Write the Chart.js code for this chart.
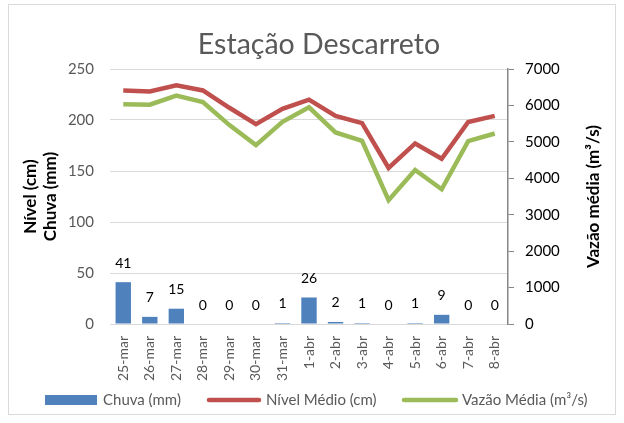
<!DOCTYPE html>
<html><head><meta charset="utf-8">
<script src="https://cdn.jsdelivr.net/npm/chart.js@4"></script>
<style>html,body{margin:0;padding:0;background:#fff}#w{width:624px;height:423px}</style>
</head><body><div id="w"><canvas id="c" width="624" height="423"></canvas></div>
<script>
const categories = ['25-mar','26-mar','27-mar','28-mar','29-mar','30-mar','31-mar','1-abr','2-abr','3-abr','4-abr','5-abr','6-abr','7-abr','8-abr'];
const chuva = [41,7,15,0,0,0,1,26,2,1,0,1,9,0,0];
const nivel = [229,228,234,229,212,196,211,220,204,197,153,177,162,198,204];
const vazao = [6030,6020,6270,6090,5460,4910,5550,5950,5260,5030,3400,4230,3700,5020,5230];
const leftTicks = [0,50,100,150,200,250];
const rightTicks = [0,1000,2000,3000,4000,5000,6000,7000];
const FONT = 'Lato, "Noto Sans", sans-serif';
const GRAY = '#595959';

const framePlugin = {
  id:'frame',
  beforeDraw(chart){
    const ctx = chart.ctx;
    ctx.save();
    ctx.fillStyle='#fff'; ctx.fillRect(0,0,chart.width,chart.height);
    ctx.strokeStyle='#d9d9d9'; ctx.lineWidth=1;
    ctx.strokeRect(8.5,4.5,607,410);
    ctx.restore();
  },
  afterDraw(chart){
    const ctx = chart.ctx;
    ctx.save();
    ctx.fillStyle=GRAY; ctx.font='28.5px '+FONT; ctx.textAlign='center'; ctx.textBaseline='middle';
    ctx.fillText('Estação Descarreto', 319, 45);
    // right axis title (reads bottom to top)
    ctx.save();
    ctx.translate(594, (chart.chartArea.top+chart.chartArea.bottom)/2);
    ctx.rotate(-Math.PI/2);
    ctx.fillStyle='#000'; ctx.font='bold 17px '+FONT;
    ctx.fillText('Vazão média (m³/s)', 0, 0);
    ctx.restore();
    ctx.font='15px '+FONT; ctx.textAlign='left';
    const ly=400;
    ctx.fillStyle='#4f81bd'; ctx.fillRect(45,ly-5,52,10);
    ctx.fillStyle=GRAY; ctx.fillText('Chuva (mm)',103,ly);
    ctx.strokeStyle='#c0504d'; ctx.lineWidth=4.5; ctx.lineCap='round';
    ctx.beginPath(); ctx.moveTo(209,ly); ctx.lineTo(259,ly); ctx.stroke();
    ctx.fillText('Nível Médio (cm)',266,ly);
    ctx.strokeStyle='#9bbb59';
    ctx.beginPath(); ctx.moveTo(404,ly); ctx.lineTo(456,ly); ctx.stroke();
    ctx.fillText('Vazão Média (m³/s)',462,ly);
    ctx.restore();
  },
  afterDatasetsDraw(chart){
    const ctx = chart.ctx;
    const meta = chart.getDatasetMeta(2);
    ctx.save();
    ctx.fillStyle='#000'; ctx.font='14px '+FONT; ctx.textAlign='center'; ctx.textBaseline='middle';
    meta.data.forEach((bar,i)=>{
      ctx.fillText(String(chuva[i]), bar.x, bar.y-19);
    });
    ctx.restore();
  }
};

new Chart(document.getElementById('c'), {
  data:{
    labels:categories,
    datasets:[
      {type:'line', label:'Nível Médio (cm)', data:nivel, yAxisID:'y', borderColor:'#c0504d', borderWidth:4.5, pointRadius:0, tension:0, order:1},
      {type:'line', label:'Vazão Média (m³/s)', data:vazao, yAxisID:'y1', borderColor:'#9bbb59', borderWidth:4.5, pointRadius:0, tension:0, order:2},
      {type:'bar', label:'Chuva (mm)', data:chuva, yAxisID:'y', backgroundColor:'#4f81bd', barPercentage:0.58, categoryPercentage:1, order:3}
    ]
  },
  plugins:[framePlugin],
  options:{
    responsive:false, animation:false,
    layout:{padding:{top:69,left:0,right:0,bottom:0}},
    plugins:{legend:{display:false}, title:{display:false}, tooltip:{enabled:false}},
    scales:{
      x:{
        grid:{display:false}, border:{display:false},
        ticks:{color:GRAY, font:{family:FONT,size:14}, maxRotation:90, minRotation:90, autoSkip:false, padding:4},
        afterFit(s){ s.height = 99; }
      },
      y:{
        position:'left', min:0, max:250,
        afterBuildTicks(s){ s.ticks = leftTicks.map(v=>({value:v})); },
        grid:{color:'#d9d9d9', drawTicks:false, lineWidth:1},
        border:{display:false},
        ticks:{color:GRAY, font:{family:FONT,size:15}, padding:16},
        title:{display:true, text:['Nível (cm)','Chuva (mm)'], color:'#000', font:{family:FONT,size:17,weight:'bold',lineHeight:1.15}, padding:{top:21,bottom:4}},
        afterFit(s){ s.width = 110; }
      },
      y1:{
        position:'right', min:0, max:7000,
        afterBuildTicks(s){ s.ticks = rightTicks.map(v=>({value:v})); },
        grid:{drawOnChartArea:false, drawTicks:true, tickLength:6, color:'#868686'},
        border:{display:true, color:'#868686', width:1.5},
        ticks:{color:'#000', font:{family:FONT,size:15}, padding:11, callback:(v)=>String(v)},
        title:{display:false},
        afterFit(s){ s.width = 116; }
      }
    }
  }
});
</script></body></html>
